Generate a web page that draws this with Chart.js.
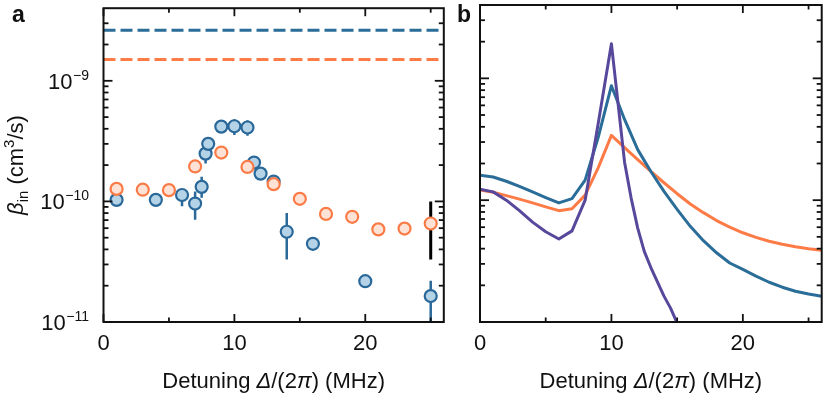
<!DOCTYPE html>
<html><head><meta charset="utf-8">
<script src="https://cdn.jsdelivr.net/npm/chart.js@4.4.1/dist/chart.umd.min.js"></script>
<style>
html,body{margin:0;padding:0;background:#fff;width:830px;height:393px;overflow:hidden}
#ca{position:absolute;left:0;top:0}
#cb{position:absolute;left:452px;top:0}
</style></head><body>
<canvas id="ca" width="452" height="393"></canvas>
<canvas id="cb" width="378" height="393"></canvas>
<script>
// ---------- Panel a: measured (blue) ----------
const measX    = [1, 4, 6, 7, 7.5, 7.8, 8, 9, 10, 11, 11.5, 12, 13, 14, 16, 20, 25];
const measBeta = [1.03e-10, 1.03e-10, 1.13e-10, 9.6e-11, 1.32e-10, 2.49e-10, 3.0e-10, 4.17e-10, 4.2e-10, 4.1e-10, 2.1e-10, 1.7e-10, 1.46e-10, 5.6e-11, 4.45e-11, 2.18e-11, 1.64e-11];
const measLow  = [null, null, 9.1e-11, 7.05e-11, 1.07e-10, 2.06e-10, null, null, 3.55e-10, 3.5e-10, null, null, null, 3.3e-11, 3.95e-11, null, 1.0e-11];
const measHigh = [null, null, 1.27e-10, 1.21e-10, 1.6e-10, 2.7e-10, null, null, 4.8e-10, 4.7e-10, null, null, null, 8.0e-11, 5.0e-11, null, 2.2e-11];
// ---------- Panel a: calculated (orange) ----------
const calcX    = [1, 3, 5, 7, 9, 11, 13, 15, 17, 19, 21, 23, 25];
const calcBeta = [1.27e-10, 1.25e-10, 1.24e-10, 1.95e-10, 2.54e-10, 1.93e-10, 1.39e-10, 1.05e-10, 7.87e-11, 7.45e-11, 5.86e-11, 5.95e-11, 6.56e-11];
// ---------- Panel a: limits (dashed) and systematic bar ----------
const limitX = [0, 26];
const limitBlue = 2.62e-9;
const limitOrange = 1.5e-9;
const sysBarX = 25;
const sysBarRange = [3.3e-11, 1.0e-10];
// ---------- Panel b: model curves ----------
const curveX      = [0,1,2,3,4,5,6,7,8,9,10,11,12,13,14,15,16,17,18,19,20,21,22,23,24,25,26];
const curveBlue   = [1.60e-10,1.55e-10,1.43e-10,1.30e-10,1.17e-10,1.05e-10,9.5e-11,1.03e-10,1.46e-10,3.3e-10,8.7e-10,4.6e-10,2.6e-10,1.72e-10,1.18e-10,8.4e-11,6.1e-11,4.65e-11,3.7e-11,3.05e-11,2.7e-11,2.38e-11,2.12e-11,1.93e-11,1.79e-11,1.7e-11,1.63e-11];
const curveOrange = [1.21e-10,1.16e-10,1.09e-10,1.02e-10,9.5e-11,8.8e-11,8.2e-11,8.5e-11,1.1e-10,1.85e-10,3.4e-10,2.7e-10,2.15e-10,1.72e-10,1.39e-10,1.13e-10,9.3e-11,7.9e-11,6.8e-11,6.0e-11,5.4e-11,4.95e-11,4.6e-11,4.35e-11,4.15e-11,4.0e-11,3.88e-11];
const purpleX     = [0,1,2,3,4,5,6,7,8,9,10,11,11.5,12,12.5,13,13.5,14,14.5,15];
const curvePurple = [1.23e-10,1.17e-10,1.0e-10,8.2e-11,6.6e-11,5.5e-11,4.8e-11,5.6e-11,1.0e-10,4.3e-10,1.92e-9,2.05e-10,1.04e-10,5.9e-11,3.8e-11,2.8e-11,2.13e-11,1.63e-11,1.3e-11,9.8e-12];
// ---------- Axes ----------
const xMajorTicks = [0, 10, 20];
const xTickLabels = ['0', '10', '20'];
const xMinorTicks = [5, 15, 25];
const yMajorTicks = [1e-11, 1e-10, 1e-9];
const yTickExp    = ['\u221211', '\u221210', '\u22129'];
const yMinorTicks = [2e-11,3e-11,4e-11,5e-11,6e-11,7e-11,8e-11,9e-11,2e-10,3e-10,4e-10,5e-10,6e-10,7e-10,8e-10,9e-10,2e-9,3e-9];

const C = {blueEdge:'#2a6899', blueFace:'#b4d3e7', orangeEdge:'#fb7b47', orangeFace:'#fde2d5',
  blueLine:'#2a6d98', orangeLine:'#fd7b46', purpleLine:'#58489c', ink:'#111'};
const FF = '"Liberation Sans", Arial, Helvetica, sans-serif';

function drawRuns(c, parts, x, y, align){
  let w = 0;
  parts.forEach(p => { c.font = p.f; w += c.measureText(p.t).width; });
  let cx = align === 'center' ? x - w/2 : x;
  c.textAlign = 'left'; c.textBaseline = 'alphabetic';
  parts.forEach(p => { c.font = p.f; c.fillText(p.t, cx, y + (p.dy||0)); cx += c.measureText(p.t).width; });
}

function makeDecor(cfg){
  return {
    id: 'decor',
    beforeDatasetsDraw(chart){
      if(!cfg.errors) return;
      const c = chart.ctx, xs = chart.scales.x, ys = chart.scales.y, a = chart.chartArea;
      c.save();
      c.beginPath(); c.rect(a.left, a.top, a.right-a.left, a.bottom-a.top); c.clip();
      c.lineCap = 'butt';
      c.strokeStyle = '#000'; c.lineWidth = 3;
      let px = xs.getPixelForValue(sysBarX);
      c.beginPath(); c.moveTo(px, ys.getPixelForValue(sysBarRange[0])); c.lineTo(px, ys.getPixelForValue(sysBarRange[1])); c.stroke();
      c.strokeStyle = C.blueEdge; c.lineWidth = 2.5;
      measX.forEach((x,i) => {
        if(measLow[i] == null) return;
        const p = xs.getPixelForValue(x);
        c.beginPath(); c.moveTo(p, ys.getPixelForValue(measLow[i])); c.lineTo(p, ys.getPixelForValue(measHigh[i])); c.stroke();
      });
      c.restore();
    },
    afterDraw(chart){
      const c = chart.ctx, xs = chart.scales.x, ys = chart.scales.y, a = chart.chartArea;
      c.save();
      c.strokeStyle = C.ink; c.fillStyle = C.ink;
      c.lineWidth = 2;
      c.strokeRect(a.left, a.top, a.right-a.left, a.bottom-a.top);
      c.lineWidth = 1.8;
      const seg = (x1,y1,x2,y2) => { c.beginPath(); c.moveTo(x1,y1); c.lineTo(x2,y2); c.stroke(); };
      xMajorTicks.forEach(v => { const p = xs.getPixelForValue(v); seg(p,a.bottom,p,a.bottom-8); seg(p,a.top,p,a.top+8); });
      xMinorTicks.forEach(v => { const p = xs.getPixelForValue(v); seg(p,a.bottom,p,a.bottom-4.5); seg(p,a.top,p,a.top+4.5); });
      yMajorTicks.forEach(v => { const p = ys.getPixelForValue(v); seg(a.left,p,a.left+9,p); seg(a.right,p,a.right-9,p); });
      yMinorTicks.forEach(v => { const p = ys.getPixelForValue(v); seg(a.left,p,a.left+5,p); seg(a.right,p,a.right-5,p); });
      // x tick labels
      c.font = '22px ' + FF; c.textAlign = 'center'; c.textBaseline = 'alphabetic';
      xMajorTicks.forEach((v,i) => c.fillText(xTickLabels[i], xs.getPixelForValue(v), 349.5));
      // y tick labels
      if(cfg.yLabels){
        yMajorTicks.forEach((v,i) => {
          const p = ys.getPixelForValue(v);
          c.font = '14px ' + FF; c.textAlign = 'right';
          const ew = c.measureText(yTickExp[i]).width;
          c.fillText(yTickExp[i], 89, p - 1);
          c.font = '22px ' + FF;
          c.fillText('10', 89 - ew - 0.5, p + 8);
        });
        // y title
        c.save();
        c.translate(23, 165);
        c.rotate(-Math.PI/2);
        drawRuns(c, [
          {t:'\u03b2', f:'italic 22px ' + FF},
          {t:'in', f:'15px ' + FF, dy:5},
          {t:' (cm', f:'22px ' + FF},
          {t:'3', f:'15px ' + FF, dy:-9},
          {t:'/s)', f:'22px ' + FF}
        ], 0, 0, 'center');
        c.restore();
      }
      // x title
      drawRuns(c, [
        {t:'Detuning ', f:'22px ' + FF},
        {t:'\u0394', f:'italic 22px ' + FF},
        {t:'/(2', f:'22px ' + FF},
        {t:'\u03c0', f:'italic 22px ' + FF},
        {t:') (MHz)', f:'22px ' + FF}
      ], (a.left + a.right)/2, 388, 'center');
      // panel letter
      c.font = 'bold 23px ' + FF; c.textAlign = 'left'; c.textBaseline = 'alphabetic';
      c.fillText(cfg.letter, cfg.letterX, 22);
      c.restore();
    }
  };
}

const commonScales = {
  x: {type:'linear', min:0, max:26, display:false},
  y: {type:'logarithmic', min:1e-11, max:4e-9, display:false}
};

new Chart(document.getElementById('ca'), {
  type: 'scatter',
  data: { datasets: [
    {label:'calc', data: calcX.map((x,i) => ({x, y: calcBeta[i]})), pointRadius:6.0, pointBorderWidth:2.2,
     pointBackgroundColor:C.orangeFace, pointBorderColor:C.orangeEdge, order:0},
    {label:'meas', data: measX.map((x,i) => ({x, y: measBeta[i]})), pointRadius:6.0, pointBorderWidth:2.2,
     pointBackgroundColor:C.blueFace, pointBorderColor:C.blueEdge, order:1},
    {label:'limit blue', data: limitX.map(x => ({x, y: limitBlue})), showLine:true, pointRadius:0,
     borderColor:C.blueLine, borderWidth:3, borderDash:[12,5], order:2},
    {label:'limit orange', data: limitX.map(x => ({x, y: limitOrange})), showLine:true, pointRadius:0,
     borderColor:C.orangeLine, borderWidth:3, borderDash:[12,5], order:3}
  ]},
  options: {
    responsive:false, animation:false, devicePixelRatio:1,
    layout:{padding:{left:103.5, right:6, top:5, bottom:71}},
    plugins:{legend:{display:false}, tooltip:{enabled:false}},
    scales: JSON.parse(JSON.stringify(commonScales))
  },
  plugins: [makeDecor({errors:true, yLabels:true, letter:'a', letterX:12})]
});

new Chart(document.getElementById('cb'), {
  type: 'scatter',
  data: { datasets: [
    {label:'purple', data: purpleX.map((x,i) => ({x, y: curvePurple[i]})), showLine:true, pointRadius:0,
     borderColor:C.purpleLine, borderWidth:3, borderJoinStyle:'round', order:0},
    {label:'blue', data: curveX.map((x,i) => ({x, y: curveBlue[i]})), showLine:true, pointRadius:0,
     borderColor:C.blueLine, borderWidth:3, borderJoinStyle:'round', order:1},
    {label:'orange', data: curveX.map((x,i) => ({x, y: curveOrange[i]})), showLine:true, pointRadius:0,
     borderColor:C.orangeLine, borderWidth:3, borderJoinStyle:'round', order:2}
  ]},
  options: {
    responsive:false, animation:false, devicePixelRatio:1,
    layout:{padding:{left:28, right:8.3, top:5, bottom:71}},
    plugins:{legend:{display:false}, tooltip:{enabled:false}},
    scales: JSON.parse(JSON.stringify(commonScales))
  },
  plugins: [makeDecor({errors:false, yLabels:false, letter:'b', letterX:5})]
});
</script>
</body></html>
